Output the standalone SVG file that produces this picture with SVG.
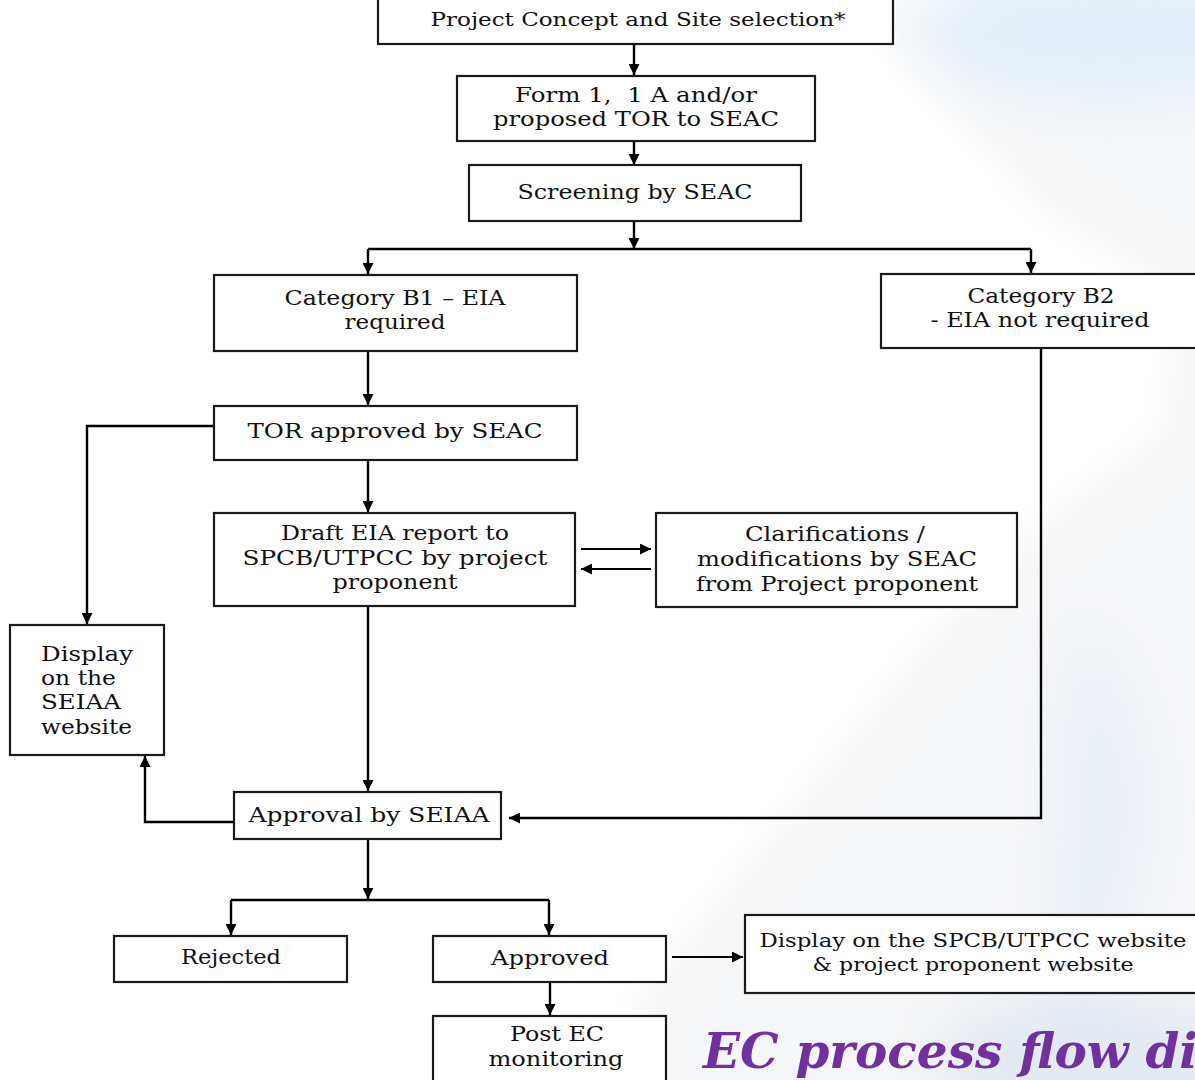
<svg xmlns="http://www.w3.org/2000/svg" width="1195" height="1080" viewBox="0 0 1195 1080">
  <defs>
    <filter id="soft" x="-20%" y="-20%" width="140%" height="140%">
      <feGaussianBlur stdDeviation="18"/>
    </filter>
    <filter id="softer" x="-30%" y="-30%" width="160%" height="160%">
      <feGaussianBlur stdDeviation="30"/>
    </filter>
    <marker id="arr" viewBox="0 0 10 10" refX="10" refY="5" markerWidth="11" markerHeight="11" markerUnits="userSpaceOnUse" orient="auto">
      <path d="M0,0 L10,5 L0,10 Z" fill="#000"/>
    </marker>
  </defs>
  <style>
    .box { fill: #ffffff; stroke: #1a1a1a; stroke-width: 2.2; }
    .edge { fill: none; stroke: #000; stroke-width: 2.4; }
    .thin { fill: none; stroke: #000; stroke-width: 1.8; }
    text { font-family: "DejaVu Serif", "Liberation Serif", serif; fill: #111; }
    .t { font-size: 20px; text-anchor: middle; }
    .s { font-size: 18px; text-anchor: middle; }
    .l { font-size: 20px; text-anchor: start; }
    .title { font-size: 48.5px; font-weight: bold; font-style: italic; fill: #7030a0; }
  </style>

  <!-- backdrop: white page with a pale grey-blue sweep on the right -->
  <rect x="0" y="0" width="1195" height="1080" fill="#ffffff"/>
  <g filter="url(#soft)">
    <path d="M 860 0 L 1260 0 L 1260 1140 L 640 1140 L 640 1000 L 1000 560 L 1170 430 L 1180 290 L 1050 210 Z" fill="#f5f6f7"/>
  </g>
  <g filter="url(#softer)">
    <ellipse cx="1110" cy="30" rx="190" ry="70" fill="#e3eff9"/>
    <path d="M 1075 620 C 1150 700 1160 820 1130 900 C 1110 960 1090 1020 1060 1090 L 1030 1090 C 1050 1000 1060 900 1060 800 Z" fill="#e8eef7"/>
    <ellipse cx="1100" cy="1060" rx="170" ry="60" fill="#e2e9f2"/>
  </g>

  <!-- connectors -->
  <g id="connectors">
    <line class="edge" x1="634" y1="44" x2="634" y2="75" marker-end="url(#arr)"/>
    <line class="edge" x1="634" y1="141" x2="634" y2="165" marker-end="url(#arr)"/>
    <line class="edge" x1="634" y1="221" x2="634" y2="249" marker-end="url(#arr)"/>
    <polyline class="edge" points="368,249 1031,249"/>
    <polyline class="edge" points="368,249 368,274" marker-end="url(#arr)"/>
    <polyline class="edge" points="1031,249 1031,273" marker-end="url(#arr)"/>
    <line class="edge" x1="368" y1="351" x2="368" y2="405" marker-end="url(#arr)"/>
    <polyline class="edge" points="214,426 87,426 87,624" marker-end="url(#arr)"/>
    <line class="edge" x1="368" y1="460" x2="368" y2="512" marker-end="url(#arr)"/>
    <line class="thin" x1="581" y1="549" x2="651" y2="549" marker-end="url(#arr)"/>
    <line class="thin" x1="651" y1="569" x2="581" y2="569" marker-end="url(#arr)"/>
    <polyline class="edge" points="1041,348 1041,818 509,818" marker-end="url(#arr)"/>
    <line class="edge" x1="368" y1="606" x2="368" y2="791" marker-end="url(#arr)"/>
    <polyline class="edge" points="234,822 145,822 145,756" marker-end="url(#arr)"/>
    <line class="edge" x1="368" y1="839" x2="368" y2="899" marker-end="url(#arr)"/>
    <polyline class="edge" points="231,900 549,900"/>
    <line class="edge" x1="231" y1="900" x2="231" y2="935" marker-end="url(#arr)"/>
    <line class="edge" x1="549" y1="900" x2="549" y2="935" marker-end="url(#arr)"/>
    <line class="thin" x1="672" y1="957" x2="743" y2="957" marker-end="url(#arr)"/>
    <line class="edge" x1="550" y1="982" x2="550" y2="1015" marker-end="url(#arr)"/>
  </g>

  <!-- nodes -->
  <g id="concept">
    <rect class="box" x="378" y="-2" width="515" height="46"/>
    <text class="s" x="638" y="26" textLength="415" lengthAdjust="spacingAndGlyphs">Project Concept and Site selection*</text>
  </g>
  <g id="form1">
    <rect class="box" x="457" y="76" width="358" height="65"/>
    <text class="t" x="636" y="102" textLength="242" lengthAdjust="spacingAndGlyphs">Form 1,&#160; 1 A and/or</text>
    <text class="t" x="636" y="126" textLength="286" lengthAdjust="spacingAndGlyphs">proposed TOR to SEAC</text>
  </g>
  <g id="screening">
    <rect class="box" x="469" y="165" width="332" height="56"/>
    <text class="t" x="635" y="199" textLength="235" lengthAdjust="spacingAndGlyphs">Screening by SEAC</text>
  </g>
  <g id="cat-b1">
    <rect class="box" x="214" y="275" width="363" height="76"/>
    <text class="t" x="395" y="305" textLength="221" lengthAdjust="spacingAndGlyphs">Category B1 – EIA</text>
    <text class="t" x="395" y="329" textLength="101" lengthAdjust="spacingAndGlyphs">required</text>
  </g>
  <g id="cat-b2">
    <rect class="box" x="881" y="274" width="330" height="74"/>
    <text class="t" x="1041" y="303" textLength="147" lengthAdjust="spacingAndGlyphs">Category B2</text>
    <text class="t" x="1040" y="327" textLength="219" lengthAdjust="spacingAndGlyphs">- EIA not required</text>
  </g>
  <g id="tor">
    <rect class="box" x="214" y="406" width="363" height="54"/>
    <text class="t" x="395" y="438" textLength="295" lengthAdjust="spacingAndGlyphs">TOR approved by SEAC</text>
  </g>
  <g id="draft-eia">
    <rect class="box" x="214" y="513" width="361" height="93"/>
    <text class="t" x="395" y="540" textLength="228" lengthAdjust="spacingAndGlyphs">Draft EIA report to</text>
    <text class="t" x="395" y="565" textLength="305" lengthAdjust="spacingAndGlyphs">SPCB/UTPCC by project</text>
    <text class="t" x="395" y="589" textLength="125" lengthAdjust="spacingAndGlyphs">proponent</text>
  </g>
  <g id="clarifications">
    <rect class="box" x="656" y="513" width="361" height="94"/>
    <text class="t" x="835" y="541" textLength="180" lengthAdjust="spacingAndGlyphs">Clarifications /</text>
    <text class="t" x="837" y="566" textLength="280" lengthAdjust="spacingAndGlyphs">modifications by SEAC</text>
    <text class="t" x="837" y="591" textLength="282" lengthAdjust="spacingAndGlyphs">from Project proponent</text>
  </g>
  <g id="display-seiaa">
    <rect class="box" x="10" y="625" width="154" height="130"/>
    <text class="l" x="41" y="661" textLength="92" lengthAdjust="spacingAndGlyphs">Display</text>
    <text class="l" x="41" y="685" textLength="75" lengthAdjust="spacingAndGlyphs">on the</text>
    <text class="l" x="41" y="709" textLength="80" lengthAdjust="spacingAndGlyphs">SEIAA</text>
    <text class="l" x="41" y="734" textLength="91" lengthAdjust="spacingAndGlyphs">website</text>
  </g>
  <g id="approval">
    <rect class="box" x="234" y="792" width="267" height="47"/>
    <text class="t" x="369" y="822" textLength="241" lengthAdjust="spacingAndGlyphs">Approval by SEIAA</text>
  </g>
  <g id="rejected">
    <rect class="box" x="114" y="936" width="233" height="46"/>
    <text class="t" x="231" y="964" textLength="100" lengthAdjust="spacingAndGlyphs">Rejected</text>
  </g>
  <g id="approved">
    <rect class="box" x="433" y="936" width="233" height="46"/>
    <text class="t" x="550" y="965" textLength="118" lengthAdjust="spacingAndGlyphs">Approved</text>
  </g>
  <g id="display-spcb">
    <rect class="box" x="745" y="915" width="466" height="78"/>
    <text class="s" x="973" y="947" textLength="427" lengthAdjust="spacingAndGlyphs">Display on the SPCB/UTPCC website</text>
    <text class="s" x="973" y="971" textLength="321" lengthAdjust="spacingAndGlyphs">&amp; project proponent website</text>
  </g>
  <g id="post-ec">
    <rect class="box" x="433" y="1016" width="233" height="70"/>
    <text class="t" x="557" y="1041" textLength="94" lengthAdjust="spacingAndGlyphs">Post EC</text>
    <text class="t" x="556" y="1066" textLength="135" lengthAdjust="spacingAndGlyphs">monitoring</text>
  </g>

  <!-- heading, running off the right edge of the page -->
  <text class="title" x="703" y="1068">EC process flow diagram</text>
</svg>
